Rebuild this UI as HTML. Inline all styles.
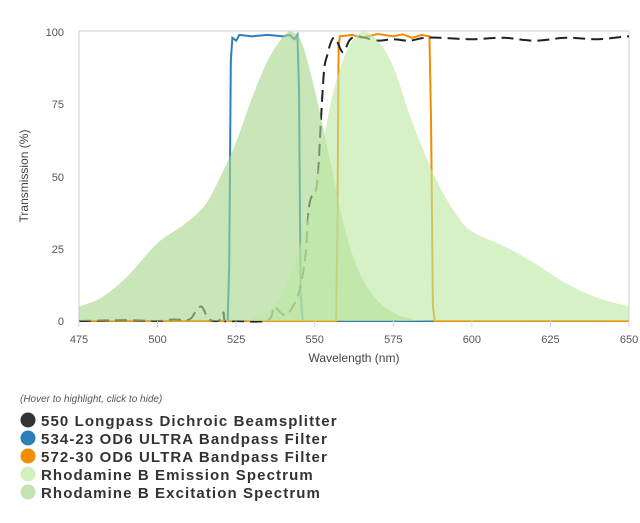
<!DOCTYPE html>
<html><head><meta charset="utf-8"><style>
body{margin:0;background:#fff;width:640px;height:523px;overflow:hidden;font-family:"Liberation Sans",sans-serif}
</style></head><body>
<svg id="s" width="640" height="523" xmlns="http://www.w3.org/2000/svg" style="position:absolute;left:0;top:0">
<defs><clipPath id="c"><rect x="79" y="20" width="550" height="303"/></clipPath></defs>
<rect x="79" y="31" width="550" height="290" fill="none" stroke="#ccc" stroke-width="1"/>
<g id="g" clip-path="url(#c)"></g>
<g font-size="11" fill="#555" text-anchor="end">
<text x="64" y="36">100</text><text x="64" y="108">75</text><text x="64" y="181">50</text><text x="64" y="253">25</text><text x="64" y="325">0</text>
</g>
<g id="xt" font-size="11" fill="#555" text-anchor="middle"></g>
<text x="354" y="362" font-size="12" fill="#444" text-anchor="middle">Wavelength (nm)</text>
<text transform="translate(28,176) rotate(-90)" font-size="12" fill="#444" text-anchor="middle">Transmission (%)</text>
<text x="20" y="402" font-size="10" font-style="italic" fill="#555">(Hover to highlight, click to hide)</text>
<g font-size="15" font-weight="bold" fill="#333" letter-spacing="1.1">
<circle cx="28" cy="420" r="7.5" fill="#333"/><text x="41" y="426">550 Longpass Dichroic Beamsplitter</text>
<circle cx="28" cy="438" r="7.5" fill="#2d7fba"/><text x="41" y="444">534-23 OD6 ULTRA Bandpass Filter</text>
<circle cx="28" cy="456" r="7.5" fill="#f28c00"/><text x="41" y="462">572-30 OD6 ULTRA Bandpass Filter</text>
<circle cx="28" cy="474" r="7.5" fill="#d4f0c0"/><text x="41" y="480">Rhodamine B Emission Spectrum</text>
<circle cx="28" cy="492" r="7.5" fill="#c5e2b0"/><text x="41" y="498">Rhodamine B Excitation Spectrum</text>
</g>
</svg>
<script>
const X=n=>79+(n-475)*3.143, Y=v=>321-v*2.89;
function smooth(pts){let d=`M${X(pts[0][0])},${Y(pts[0][1])}`;
for(let i=0;i<pts.length-1;i++){const p0=pts[Math.max(i-1,0)],p1=pts[i],p2=pts[i+1],p3=pts[Math.min(i+2,pts.length-1)];
const c1=[X(p1[0])+(X(p2[0])-X(p0[0]))/6,Y(p1[1])+(Y(p2[1])-Y(p0[1]))/6],c2=[X(p2[0])-(X(p3[0])-X(p1[0]))/6,Y(p2[1])-(Y(p3[1])-Y(p1[1]))/6];
d+=`C${c1[0]},${c1[1]} ${c2[0]},${c2[1]} ${X(p2[0])},${Y(p2[1])}`;}return d;}
function line(pts){return 'M'+pts.map(p=>X(p[0])+','+Y(p[1])).join('L');}
const ex=[[475,5],[482,8],[490,15],[500,27],[508,33],[515,40],[520,50],[525,62],[530,77],[535,90],[540,98.5],[543,100],[546,96],[550,80],[555,55],[560,30],[565,15],[570,7],[575,3],[580,1],[590,0],[655,0]];
const em=[[475,0],[525,0],[530,1],[535,3],[540,10],[545,25],[550,45],[555,75],[560,93],[565,100],[570,97],[575,88],[580,72],[585,58],[590,46],[595,37],[600,31],[610,26],[620,20],[630,13],[640,8],[650,5],[655,3.5]];
const blue=[[475,0],[522.3,0],[522.8,20],[523.3,90],[523.8,98],[525,97],[526,99],[530,98.5],[535,99],[540,98.5],[542,99],[543.5,97.5],[544.5,99],[545,80],[545.5,10],[546.2,0],[655,0]];
const orange=[[475,0],[556.8,0],[557.2,30],[557.6,95],[558,98.5],[562,99],[565,98],[570,99.3],[575,98.5],[578,99.2],[581,98],[584,99],[586.5,98.5],[587,70],[587.6,5],[588.2,0],[655,0]];
const blk=[[475,0],[490,0.3],[500,0],[505,0.5],[510,0.5],[512,3],[514,5],[516,1],[518,0],[520,0.5],[521,3],[521.5,0],[525,0],[535,0.2],[537,5],[539,3],[541,2],[543,5],[545,10],[547,22],[548,38],[549,43],[550,44],[551,50],[552,70],[553,87],[554,92],[555,96],[556,98],[557,97],[559,93],[561,97],[563,98.5],[566,98],[570,97],[575,97.5],[580,97],[585,98],[590,98],[600,97.5],[610,98],[620,97],[630,98],[640,97.5],[650,98.5],[655,98]];
const g=document.getElementById('g');
let h='';
h+=`<path d="${line(blue)}" fill="none" stroke="#2d7fba" stroke-width="2"/>`;
h+=`<path d="${line(orange)}" fill="none" stroke="#f28c00" stroke-width="2"/>`;
h+=`<path d="${smooth(blk)}" fill="none" stroke="#222" stroke-width="2" stroke-dasharray="12,6"/>`;
h+=`<path d="${smooth(ex)}L${X(655)},321L${X(475)},321Z" fill="#a8d68c" fill-opacity="0.62"/>`;
h+=`<path d="${smooth(em)}L${X(655)},321L${X(475)},321Z" fill="#bde8a2" fill-opacity="0.6"/>`;
g.innerHTML=h;
let t='';for(let n=475;n<=650;n+=25){t+=`<line x1="${X(n)}" y1="321" x2="${X(n)}" y2="327" stroke="#ccd6eb"/><text x="${X(n)}" y="343">${n}</text>`;}
document.getElementById('xt').innerHTML=t;
</script>
</body></html>
